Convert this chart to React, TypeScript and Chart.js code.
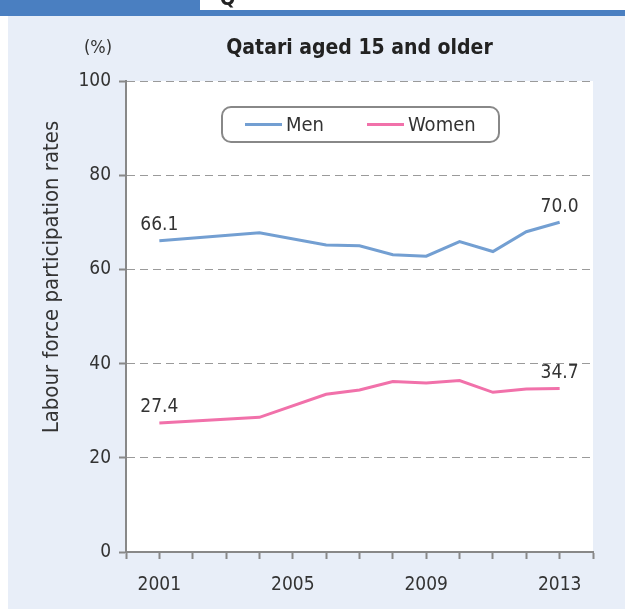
import React, { useEffect, useRef } from "react";
import { Chart, registerables } from "chart.js";

Chart.register(...registerables);

// ---- data ----
const years = [2001, 2004, 2006, 2007, 2008, 2009, 2010, 2011, 2012, 2013];
const menRates = [66.1, 67.8, 65.2, 65.0, 63.1, 62.8, 65.9, 63.8, 68.0, 70.0];
const womenRates = [27.4, 28.6, 33.5, 34.4, 36.2, 35.9, 36.4, 33.9, 34.6, 34.7];
const seriesLabels = ["Men", "Women"];
const labeledYears = [2001, 2005, 2009, 2013];
const yTickValues = [0, 20, 40, 60, 80, 100];
const chartTitle = "Qatari aged 15 and older";
const yAxisTitle = "Labour force participation rates";
const unitLabel = "(%)";

const FONT = '"Liberation Sans Narrow", "DejaVu Sans Condensed", "Open Sans", sans-serif';
const MEN_COLOR = "#739fd2";
const WOMEN_COLOR = "#f171aa";
const TEXT_COLOR = "#333333";
const AXIS_COLOR = "#888888";

const backgroundPlugin = {
  id: "pageBackground",
  beforeDraw(chart: any) {
    const { ctx, width, height, chartArea } = chart;
    ctx.save();
    ctx.fillStyle = "#ffffff";
    ctx.fillRect(0, 0, width, height);
    // light blue panel
    ctx.fillStyle = "#e8eef8";
    ctx.fillRect(8, 15, width - 8, height - 15);
    // header band
    ctx.fillStyle = "#4a7fc1";
    ctx.fillRect(0, 0, width, 16);
    ctx.fillStyle = "#ffffff";
    ctx.fillRect(200, 0, width - 200, 10);
    // clipped header text glyph
    ctx.save();
    ctx.beginPath();
    ctx.rect(200, 0, width - 200, 10);
    ctx.clip();
    ctx.fillStyle = "#222";
    ctx.font = `bold 20px ${FONT}`;
    ctx.textBaseline = "alphabetic";
    ctx.fillText("Q", 220, 5);
    ctx.restore();
    // plot area
    ctx.fillStyle = "#ffffff";
    ctx.fillRect(chartArea.left, chartArea.top, chartArea.right - chartArea.left, chartArea.bottom - chartArea.top);
    ctx.restore();
  },
};

const textPlugin = {
  id: "extraTexts",
  afterDraw(chart: any) {
    const { ctx, chartArea } = chart;
    ctx.save();
    ctx.fillStyle = "#222";
    ctx.textAlign = "center";
    ctx.textBaseline = "middle";
    ctx.font = `bold 21px ${FONT}`;
    ctx.fillText(chartTitle, (chartArea.left + chartArea.right) / 2, 49);
    ctx.fillStyle = TEXT_COLOR;
    ctx.font = `18px ${FONT}`;
    ctx.fillText(unitLabel, 98, 48);
    ctx.save();
    ctx.translate(52, 277);
    ctx.rotate(-Math.PI / 2);
    ctx.font = `22px ${FONT}`;
    ctx.fillText(yAxisTitle, 0, 0);
    ctx.restore();

    // end-point value labels
    ctx.font = `19px ${FONT}`;
    ctx.textBaseline = "bottom";
    chart.data.datasets.forEach((ds: any, di: number) => {
      const meta = chart.getDatasetMeta(di);
      const pts = meta.data;
      [0, pts.length - 1].forEach((i) => {
        const p = pts[i];
        const v = ds.data[i].y;
        ctx.fillText(v.toFixed(1), p.x, p.y - 6);
      });
    });

    // legend box
    const bx = 222, by = 107, bw = 277, bh = 35, r = 9;
    ctx.beginPath();
    ctx.moveTo(bx + r, by);
    ctx.arcTo(bx + bw, by, bx + bw, by + bh, r);
    ctx.arcTo(bx + bw, by + bh, bx, by + bh, r);
    ctx.arcTo(bx, by + bh, bx, by, r);
    ctx.arcTo(bx, by, bx + bw, by, r);
    ctx.closePath();
    ctx.fillStyle = "#ffffff";
    ctx.fill();
    ctx.lineWidth = 2;
    ctx.strokeStyle = AXIS_COLOR;
    ctx.stroke();
    const itemX = [245, 367];
    const cy = by + bh / 2;
    chart.data.datasets.forEach((ds: any, di: number) => {
      const x0 = itemX[di];
      ctx.beginPath();
      ctx.moveTo(x0, cy);
      ctx.lineTo(x0 + 37, cy);
      ctx.lineWidth = 3;
      ctx.strokeStyle = ds.borderColor;
      ctx.stroke();
      ctx.fillStyle = TEXT_COLOR;
      ctx.textAlign = "left";
      ctx.textBaseline = "middle";
      ctx.font = `20px ${FONT}`;
      ctx.fillText(ds.label, x0 + 41, cy + 1);
    });
    ctx.restore();
  },
};

export default function App() {
  const canvasRef = useRef<HTMLCanvasElement | null>(null);

  useEffect(() => {
    if (!canvasRef.current) return;
    Chart.defaults.font.family = FONT;
    const chart = new Chart(canvasRef.current, {
      type: "line",
      data: {
        datasets: [
          {
            label: seriesLabels[0],
            data: years.map((y, i) => ({ x: y, y: menRates[i] })),
            borderColor: MEN_COLOR,
            backgroundColor: MEN_COLOR,
            borderWidth: 3,
            pointRadius: 0,
            tension: 0,
          },
          {
            label: seriesLabels[1],
            data: years.map((y, i) => ({ x: y, y: womenRates[i] })),
            borderColor: WOMEN_COLOR,
            backgroundColor: WOMEN_COLOR,
            borderWidth: 3,
            pointRadius: 0,
            tension: 0,
          },
        ],
      },
      options: {
        responsive: false,
        animation: false,
        events: [],
        layout: { padding: { left: 8, right: 32, top: 81, bottom: 0 } },
        plugins: {
          legend: { display: false },
          title: { display: false },
          tooltip: { enabled: false },
        },
        scales: {
          x: {
            type: "linear",
            min: 2000,
            max: 2014,
            afterFit: (scale: any) => {
              scale.height = 57;
            },
            ticks: {
              stepSize: 1,
              autoSkip: false,
              maxRotation: 0,
              padding: 15,
              color: TEXT_COLOR,
              font: { size: 19 },
              callback: (v: any) => (labeledYears.includes(Number(v)) ? String(v) : ""),
            },
            grid: {
              drawOnChartArea: false,
              drawTicks: true,
              tickLength: 7,
              tickColor: AXIS_COLOR,
              tickWidth: 2,
            },
            border: { display: true, color: AXIS_COLOR, width: 2 },
          },
          y: {
            type: "linear",
            min: 0,
            max: 100,
            afterFit: (scale: any) => {
              scale.width = 118;
            },
            afterBuildTicks: (scale: any) => {
              scale.ticks = yTickValues.map((v) => ({ value: v }));
            },
            ticks: {
              padding: 8,
              color: TEXT_COLOR,
              font: { size: 19 },
              callback: (v: any) => String(v),
            },
            grid: {
              color: "#9a9a9a",
              lineWidth: 1,
              drawTicks: true,
              tickLength: 7,
              tickColor: AXIS_COLOR,
              tickWidth: 2,
            },
            border: { display: true, color: AXIS_COLOR, width: 2, dash: [8, 5] },
          },
        },
      },
      plugins: [backgroundPlugin, textPlugin],
    } as any);
    return () => chart.destroy();
  }, []);

  return (
    <div style={{ position: "fixed", left: 0, top: 0, width: 625, height: 609 }}>
      <canvas ref={canvasRef} width={625} height={609} style={{ display: "block", width: 625, height: 609 }} />
    </div>
  );
}
